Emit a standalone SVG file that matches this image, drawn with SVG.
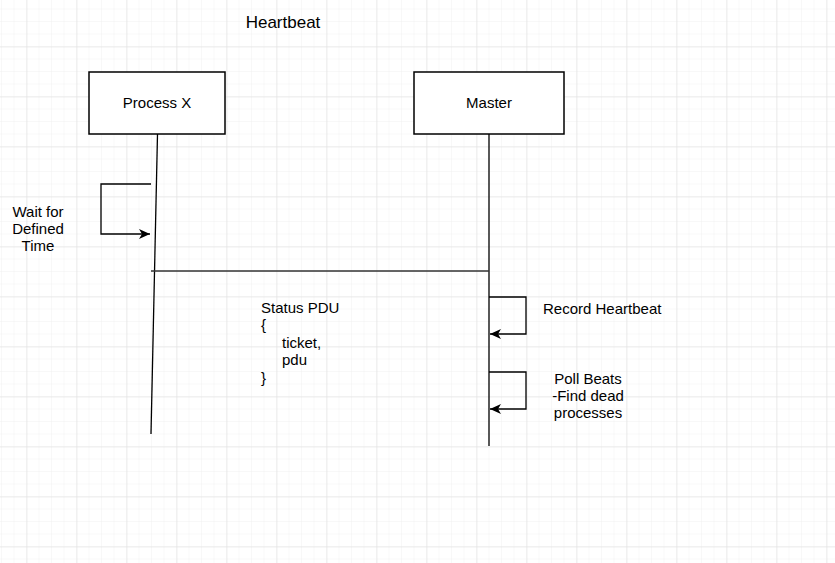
<svg xmlns="http://www.w3.org/2000/svg" width="835" height="563" viewBox="0 0 835 563">
  <defs>
    <pattern id="minor" x="1" y="-4" width="12.5" height="12.5" patternUnits="userSpaceOnUse">
      <path d="M0,0 H12.5 M0,0 V12.5" fill="none" stroke="#f1f1f1" stroke-width="1"/>
    </pattern>
    <pattern id="major" x="26.5" y="-3.5" width="50" height="50" patternUnits="userSpaceOnUse">
      <path d="M0,0 H50 M0,0 V50" fill="none" stroke="#dedede" stroke-width="1"/>
    </pattern>
    <marker id="arrow" markerUnits="userSpaceOnUse" markerWidth="12" markerHeight="11" refX="11" refY="5" orient="auto" viewBox="0 0 12 10">
      <path d="M0,0 L11,5 L0,10 L3,5 Z" fill="#000"/>
    </marker>
  </defs>
  <style>
    .box { fill: #fff; stroke: #000; stroke-width: 1.5; }
    .line { fill: none; stroke: #000; stroke-width: 1.3; }
    .txt { font-family: "Liberation Sans", Arial, sans-serif; font-size: 15px; fill: #000; }
    .mid { text-anchor: middle; }
  </style>
  <rect width="835" height="563" fill="#fff"/>
  <rect width="835" height="563" fill="url(#minor)"/>
  <rect width="835" height="563" fill="url(#major)"/>

  <g id="title">
    <text class="txt mid" x="283" y="28" style="font-size:17px">Heartbeat</text>
  </g>

  <g id="connectors">
    <line class="line" x1="157.5" y1="134" x2="151" y2="434"/>
    <line class="line" x1="489" y1="134" x2="489" y2="446"/>
    <path class="line" d="M151,184 H101 V234 H150" marker-end="url(#arrow)"/>
    <line x1="151" y1="271" x2="489" y2="271" stroke="#333" stroke-width="1.5"/>
    <path class="line" d="M489,297 H526 V334 H490" marker-end="url(#arrow)"/>
    <path class="line" d="M489,372 H526 V409 H490" marker-end="url(#arrow)"/>
  </g>

  <g id="process-x">
    <rect class="box" x="89" y="72" width="136" height="62"/>
    <text class="txt mid" x="157" y="108">Process X</text>
  </g>

  <g id="master">
    <rect class="box" x="414" y="72" width="150" height="62"/>
    <text class="txt mid" x="489" y="108">Master</text>
  </g>

  <g id="wait-label">
    <text class="txt mid" x="38" y="217">Wait for</text>
    <text class="txt mid" x="38" y="234">Defined</text>
    <text class="txt mid" x="38" y="251">Time</text>
  </g>

  <g id="status-pdu">
    <text class="txt" x="261" y="313">Status PDU</text>
    <text class="txt" x="261" y="330">{</text>
    <text class="txt" x="282" y="348">ticket,</text>
    <text class="txt" x="282" y="365">pdu</text>
    <text class="txt" x="261" y="383">}</text>
  </g>

  <g id="record-label">
    <text class="txt" x="543" y="314">Record Heartbeat</text>
  </g>

  <g id="poll-label">
    <text class="txt mid" x="588" y="384">Poll Beats</text>
    <text class="txt mid" x="588" y="401">-Find dead</text>
    <text class="txt mid" x="588" y="418">processes</text>
  </g>
</svg>
